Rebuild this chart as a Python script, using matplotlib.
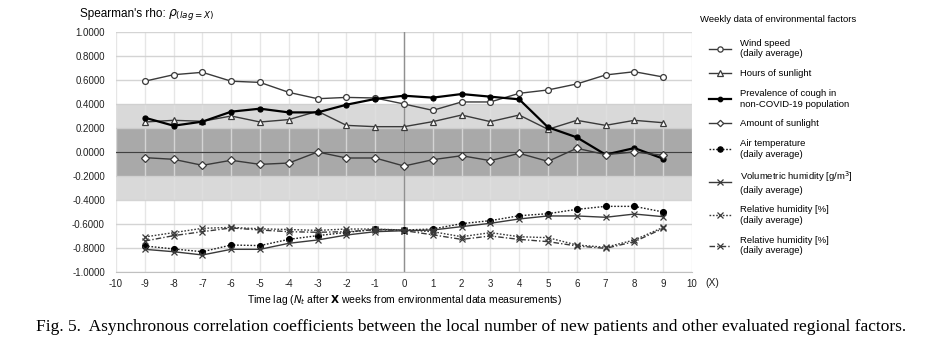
import matplotlib
matplotlib.use("Agg")
import matplotlib.pyplot as plt
from matplotlib.lines import Line2D

lags = list(range(-9, 10))

wind_speed = [0.59, 0.644, 0.664, 0.59, 0.58, 0.497, 0.444, 0.455, 0.45, 0.40,
              0.347, 0.417, 0.417, 0.489, 0.517, 0.567, 0.642, 0.669, 0.625]
hours_sunlight = [0.25, 0.264, 0.256, 0.30, 0.25, 0.27, 0.34, 0.222, 0.211, 0.211,
                  0.253, 0.308, 0.253, 0.308, 0.189, 0.264, 0.222, 0.264, 0.244]
cough = [0.286, 0.219, 0.253, 0.336, 0.361, 0.33, 0.33, 0.394, 0.442, 0.469,
         0.453, 0.483, 0.461, 0.439, 0.206, 0.122, -0.022, 0.033, -0.056]
amount_sunlight = [-0.047, -0.061, -0.111, -0.069, -0.103, -0.092, 0.0, -0.05, -0.05, -0.117,
                   -0.064, -0.031, -0.072, -0.011, -0.078, 0.031, -0.022, 0.0, -0.028]
air_temp = [-0.783, -0.808, -0.831, -0.775, -0.78, -0.728, -0.697, -0.67, -0.645, -0.65,
            -0.642, -0.597, -0.572, -0.531, -0.514, -0.478, -0.453, -0.453, -0.50]
vol_humidity = [-0.811, -0.831, -0.858, -0.811, -0.811, -0.761, -0.733, -0.692, -0.664, -0.656,
                -0.65, -0.622, -0.594, -0.558, -0.533, -0.533, -0.544, -0.517, -0.539]
rel_humidity_1 = [-0.708, -0.672, -0.636, -0.628, -0.64, -0.646, -0.653, -0.642, -0.642, -0.65,
                  -0.664, -0.706, -0.672, -0.706, -0.714, -0.775, -0.794, -0.733, -0.628]
rel_humidity_2 = [-0.742, -0.697, -0.664, -0.633, -0.65, -0.664, -0.669, -0.664, -0.648, -0.655,
                  -0.69, -0.728, -0.70, -0.728, -0.747, -0.783, -0.803, -0.747, -0.636]

labels = ["Wind speed\n(daily average)", "Hours of sunlight",
          "Prevalence of cough in\nnon-COVID-19 population", "Amount of sunlight",
          "Air temperature\n(daily average)", "Volumetric humidity [g/m$^3$]\n(daily average)",
          "Relative humidity [%]\n(daily average)", "Relative humidity [%]\n(daily average)"]

xticks = list(range(-10, 11))
yticks = [-1.0, -0.8, -0.6, -0.4, -0.2, 0.0, 0.2, 0.4, 0.6, 0.8, 1.0]

plt.rcParams['font.family'] = ['Liberation Sans', 'DejaVu Sans']

fig = plt.figure(figsize=(9.28, 3.48), dpi=100)
ax = fig.add_axes([116/928, 1-272/348, 576/928, 240/348])

ax.axhspan(0.2, 0.4, color='#d9d9d9', zorder=0, lw=0)
ax.axhspan(-0.4, -0.2, color='#d9d9d9', zorder=0, lw=0)
ax.axhspan(-0.2, 0.2, color='#a9a9a9', zorder=0, lw=0)

for xv in xticks:
    ax.axvline(xv, color='#e0e0e0', lw=1.0, zorder=0.5, alpha=0.8)
for yv in yticks:
    ax.axhline(yv, color='#d0d0d0', lw=1.0, zorder=0.5, alpha=0.9)
ax.axvline(0, color='#909090', lw=1.0, zorder=0.6)
ax.axhline(0, color='#404040', lw=0.9, zorder=0.6)

lc = '#3a3a3a'
ms = 4.2
styles = [
    dict(data=wind_speed, ls='-', marker='o', mfc='white', mec=lc, color=lc, lw=1.0, ms=ms),
    dict(data=hours_sunlight, ls='-', marker='^', mfc='white', mec=lc, color=lc, lw=1.0, ms=ms),
    dict(data=cough, ls='-', marker='o', mfc='black', mec='black', color='black', lw=1.6, ms=3.6),
    dict(data=amount_sunlight, ls='-', marker='D', mfc='white', mec=lc, color=lc, lw=1.0, ms=3.6),
    dict(data=air_temp, ls=(0, (1.2, 1.2)), marker='o', mfc='black', mec='black', color='#202020', lw=1.0, ms=ms),
    dict(data=vol_humidity, ls='-', marker='x', mfc='none', mec=lc, color=lc, lw=1.0, ms=ms),
    dict(data=rel_humidity_1, ls=(0, (1.2, 1.2)), marker='x', mfc='none', mec=lc, color=lc, lw=1.0, ms=ms),
    dict(data=rel_humidity_2, ls=(0, (4, 1.5, 1, 1.5)), marker='x', mfc='none', mec=lc, color=lc, lw=1.0, ms=ms),
]

handles = []
for st, lab in zip(styles, labels):
    ax.plot(lags, st['data'], linestyle=st['ls'], marker=st['marker'], markerfacecolor=st['mfc'],
            markeredgecolor=st['mec'], color=st['color'], lw=st['lw'], ms=st['ms'],
            markeredgewidth=0.9, zorder=3)
    handles.append(Line2D([0], [0], linestyle=st['ls'], marker=st['marker'], markerfacecolor=st['mfc'],
                          markeredgecolor=st['mec'], color=st['color'], lw=st['lw'], ms=st['ms'] * 0.9,
                          markeredgewidth=0.9))

ax.set_xlim(-10, 10)
ax.set_ylim(-1.0, 1.0)
ax.set_xticks(xticks)
ax.set_xticklabels([str(v) for v in xticks])
ax.set_yticks(yticks)
ax.set_yticklabels(["%.4f" % v for v in yticks])
ax.tick_params(axis='both', length=0, labelsize=7, colors='#222222')
ax.tick_params(axis='y', pad=8)
ax.tick_params(axis='x', pad=5)
for s in ax.spines.values():
    s.set_visible(False)
ax.spines['bottom'].set_visible(True)
ax.spines['bottom'].set_color('#c0c0c0')

fig.text(712/928, 1-283/348, "(X)", fontsize=7.5, va='center', ha='center', color='#222222')
fig.text(80/928, 1-14/348, "Spearman's rho:", fontsize=8.5, va='center', ha='left')
fig.text(168/928, 1-15/348, r"$\rho_{(lag=X)}$", fontsize=9, va='center', ha='left')

fig.text(404/928, 1-300/348, r"Time lag ($N_t$ after $\mathbf{X}$ weeks from environmental data measurements)",
         fontsize=7.5, va='center', ha='center')

fig.text(471/928, 1-327/348,
         "Fig. 5.  Asynchronous correlation coefficients between the local number of new patients and other evaluated regional factors.",
         fontsize=12.5, va='center', ha='center', family=['Liberation Serif', 'DejaVu Serif'])

fig.text(700/928, 1-20/348, "Weekly data of environmental factors", fontsize=6.8, va='center', ha='left')

leg = fig.legend(handles, labels, loc='upper left', bbox_to_anchor=(709/928, 1-39/348),
                 frameon=False, fontsize=6.8, labelspacing=1.15, handlelength=2.3, handletextpad=1.0,
                 borderaxespad=0, borderpad=0)

fig.savefig("out.png", dpi=100)
